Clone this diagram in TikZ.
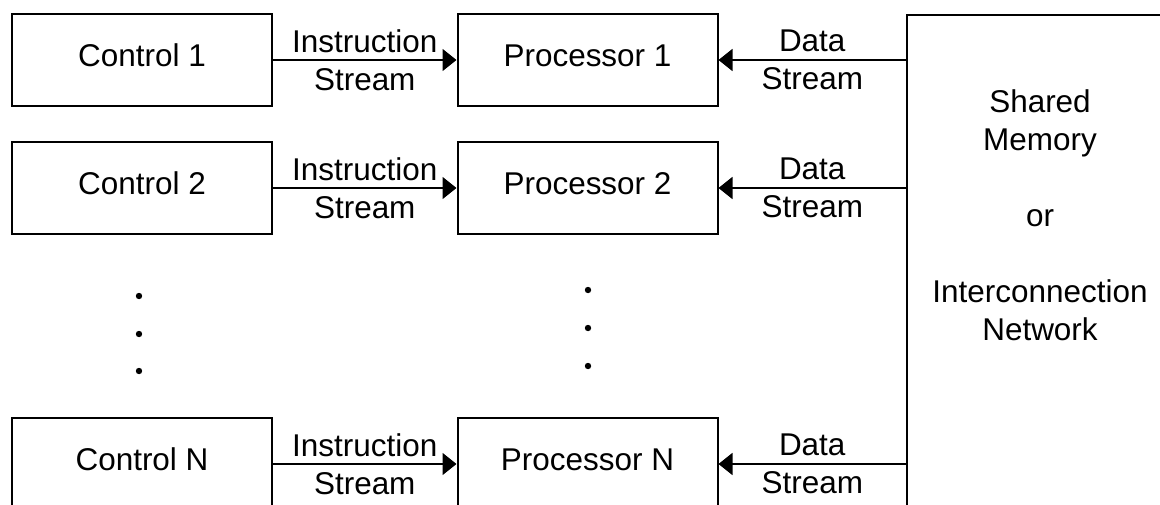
\documentclass[tikz,border=0pt]{standalone}
\usepackage{fontspec}
\setmainfont{Liberation Sans}
\usetikzlibrary{arrows.meta}
\begin{document}
\begin{tikzpicture}[x=0.75pt,y=-0.75pt,
  every node/.style={font=\fontsize{23.6pt}{28.5pt}\selectfont},
  box/.style={draw, line width=1.5pt, minimum width=195pt, minimum height=69pt,
    inner sep=0pt, text height=17pt, text depth=7pt},
  membox/.style={draw, line width=1.5pt, minimum width=199.5pt, minimum height=379.5pt, inner sep=0pt},
  lbl/.style={align=center, inner sep=0pt},
  arr/.style={line width=1.1pt, -{Triangle[length=10.5pt,width=16.5pt]}},
  dotc/.style={fill=black}]
\useasboundingbox (0,0) rectangle (1160,504);
\clip (0,0) rectangle (1160,504);
% memory
\node[membox] (mem) at (1040,268) {};
\node[lbl] (memtext) at (1040,215) {Shared\\Memory\\[28.5pt]or\\[28.5pt]Interconnection\\Network};
% rows
\node[box] (c1) at (142,60) {Control 1};
\node[box] (p1) at (587.5,60) {Processor 1};
\node[box] (c2) at (142,188) {Control 2};
\node[box] (p2) at (587.5,188) {Processor 2};
\node[box] (cn) at (142,464) {Control N};
\node[box] (pn) at (587.5,464) {Processor N};
% instruction streams
\draw[arr] (c1) -- node[lbl] {Instruction\\Stream} (p1);
\draw[arr] (c2) -- node[lbl] {Instruction\\Stream} (p2);
\draw[arr] (cn) -- node[lbl] {Instruction\\Stream} (pn);
% data streams
\draw[arr] (p1.east -| mem.west) -- node[lbl] {Data\\Stream} (p1.east);
\draw[arr] (p2.east -| mem.west) -- node[lbl] {Data\\Stream} (p2.east);
\draw[arr] (pn.east -| mem.west) -- node[lbl] {Data\\Stream} (pn.east);
% dots
\foreach \yy in {296,334,371} \fill[dotc] (139,\yy) circle[radius=2.4pt];
\foreach \yy in {290,328,366} \fill[dotc] (588,\yy) circle[radius=2.4pt];
\end{tikzpicture}
\end{document}
